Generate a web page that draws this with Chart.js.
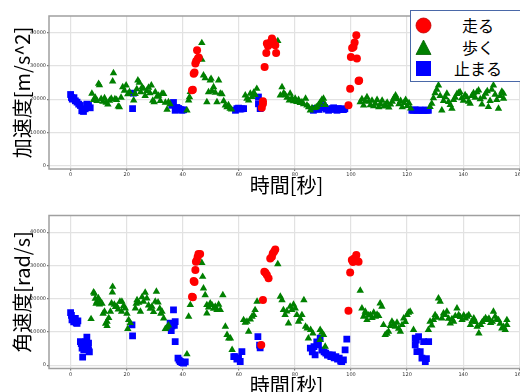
<!DOCTYPE html>
<html><head><meta charset="utf-8">
<script src="https://cdn.jsdelivr.net/npm/chart.js@4"></script>
<style>
html,body{margin:0;padding:0;width:520px;height:392px;overflow:hidden;background:#fff;}
.wrap{position:absolute;left:0;width:540px;height:200px;}
#legend{position:absolute;left:410px;top:10px;width:130px;height:70px;border:1.5px solid #4a68a8;background:#fff;font-family:"Noto Sans CJK JP",sans-serif;font-size:16px;color:#000;z-index:5;}
.row{position:absolute;left:0;width:130px;height:20px;}
.row svg{position:absolute;left:4px;top:2px;}
.row span{position:absolute;left:40px;width:54px;text-align:center;line-height:20px;}
</style></head>
<body>
<div class="wrap" style="top:0"><canvas id="accel" width="540" height="200"></canvas></div>
<div class="wrap" style="top:200px"><canvas id="gyro" width="540" height="200"></canvas></div>
<div id="legend">
  <div class="row" style="top:4px"><svg width="17" height="17"><circle cx="8.5" cy="8.5" r="7.5" fill="#ff0000" stroke="#c00000" stroke-width="0.8"/></svg><span>走る</span></div>
  <div class="row" style="top:25.5px"><svg width="17" height="17"><polygon points="8.5,1 16,15.5 1,15.5" fill="#008000" stroke="#006000" stroke-width="0.8"/></svg><span>歩く</span></div>
  <div class="row" style="top:47px"><svg width="17" height="17"><rect x="1" y="1" width="15" height="15" fill="#0000ff"/></svg><span>止まる</span></div>
</div>
<script>
// ---- data: [time (s), value] ----
const labels = ["走る", "歩く", "止まる"];
const xTitle = "時間[秒]";
const accelTitle = "加速度[m/s^2]";
const gyroTitle = "角速度[rad/s]";
const timeTicks = [0, 20, 40, 60, 80, 100, 120, 140, 160];
const valueTicks = [0, 10000, 20000, 30000, 40000];

const accelRun = [[43.3,22650],[43.6,22800],[43.9,27650],[44.2,28000],[44.5,30700],[44.8,31500],[45.1,34700],[45.4,32200],[45.7,32500],
  [68.2,17400],[68.6,19350],[68.6,18600],[69.2,29650],[69.8,33850],[70.0,36700],[70.4,36000],[70.9,36500],[71.3,37100],[71.8,38200],[72.2,37500],[73.0,36200],[73.3,33850],
  [99.1,18150],[99.7,23150],[99.96,32650],[100.4,35400],[100.9,35650],[101.3,37000],[101.9,39200],[102.1,32200],[102.7,25450],[102.9,25600]];
const accelWalk = [[7.6,21650],[8.2,19800],[8.8,20500],[9.4,19500],[10.0,24650],[10.3,24200],[10.9,20100],[11.5,19300],[12.1,20300],[12.7,19000],[13.3,18400],[13.9,19600],[14.5,20200],[15.0,25350],[15.3,27850],[15.8,20000],[16.4,19800],[17.0,17800],[17.4,17600],[18.0,20500],[18.6,23650],[19.2,22600],[19.8,24150],[20.4,21500],[21.0,22200],[22.5,19650],[23.0,21600],[23.6,23000],[24.0,25650],[24.5,25000],[25.0,22100],[25.5,23600],[26.0,23150],[26.6,21000],[27.2,22500],[27.8,23500],[28.3,21800],[28.8,24150],[29.3,19600],[29.8,19100],[30.2,22150],[30.8,20800],[31.4,21100],[32.0,19500],[32.6,21650],[33.2,21600],[33.8,19000],[34.4,16850],[34.9,19100],[35.5,18500],
  [41.5,16650],[42.1,19650],[42.4,20600],[42.7,22200],
  [46.8,36900],[46.8,31900],[47.4,27150],[48.0,26300],[48.6,19100],[49.2,22150],[49.8,25650],[50.1,26150],[50.4,22500],[51.0,23650],[51.6,22000],[52.2,19100],[52.8,25650],[53.4,21650],[54.0,21500],[54.6,19400],[55.2,18150],[55.8,17600],[56.3,18200],[56.9,17150],[57.4,16900],
  [62.3,21150],[62.9,20200],[63.5,19650],[64.1,21650],[64.7,20700],[65.3,22000],[65.8,21300],[66.4,23150],
  [73.9,37500],
  [74.8,21150],[75.4,23650],[76.0,21800],[76.6,21200],[77.2,20500],[78.0,19650],[78.3,21650],[78.9,20300],[79.5,19400],[80.1,20150],[80.7,19200],[81.3,19800],[81.9,18900],[82.5,19100],[83.1,18500],[83.8,20150],[84.3,18150],[84.9,17600],[85.5,16650],[86.1,17300],[87.2,17400],[87.8,17650],[88.4,18300],[89.0,19000],[89.6,19800],[90.2,20150],[90.8,18300],
  [103.3,19100],[103.9,20000],[104.5,18100],[105.1,19400],[105.7,20650],[106.3,19300],[106.9,18200],[107.5,19600],[108.1,17900],[108.7,18700],[109.3,19800],[109.9,17600],[110.5,18600],[111.1,19600],[111.7,17800],[112.3,18300],[112.9,19000],[113.5,17500],[114.1,18400],[114.7,19300],[115.3,20300],[115.9,21150],[116.5,20000],[117.1,18500],[117.7,19500],[118.3,17600],[118.9,18900],[119.5,19800],[120.1,18000],[120.7,18800],[121.3,17200],
  [128.2,17700],[128.8,18650],[129.4,20300],[130.0,21800],[130.6,22900],[131.2,24150],[131.8,21000],[132.4,16650],[133.0,19500],[133.6,20600],[134.2,21650],[134.8,19200],[135.4,18300],[136.0,17150],[136.6,19800],[137.2,20500],[137.8,21600],[138.4,21900],[138.9,22150],[139.5,20300],[140.1,19600],[140.7,21200],[141.3,20650],[141.9,19300],[142.5,18650],[143.1,21000],[143.7,21800],[144.3,20500],[144.9,22100],[145.5,22650],[146.1,20000],[146.7,18400],[147.3,20600],[148.0,21650],[148.6,22400],[149.0,17650],[149.6,19500],[150.2,22900],[150.8,24150],[151.4,21400],[152.0,19800],[152.6,17150],[153.2,21000],[153.8,22300],[154.4,21650],[154.4,20150]];
const accelStop = [[0,21400],[0.3,20500],[0.6,20000],[1.2,20450],[1.7,19500],[2.3,19100],[2.9,18500],[3.5,18100],[4.0,16500],[4.6,16300],[5.2,17100],[5.8,18500],[6.4,18100],[7.0,17400],
  [22.1,17150],[22.4,21800],
  [36.1,18150],[36.7,19000],[37.3,16650],[37.9,17500],[38.5,17200],[39.1,16900],[39.7,16650],[40.3,16800],
  [58.8,16650],[59.3,17150],[59.9,17300],[60.5,17000],[61.1,17100],[61.7,17150],
  [67.0,20650],[67.0,18600],[67.6,17150],
  [86.6,16650],[87.2,17200],[88.0,17150],[88.6,16900],[89.3,17400],[90.0,18100],[90.6,17500],[91.2,17000],[92.0,16650],[92.6,17000],[93.2,17150],[93.8,17400],[94.4,16900],[95.0,16650],[95.5,17200],[96.2,16850],[96.8,17000],[97.3,16850],[97.8,17100],
  [121.7,16650],[122.3,16650],[122.9,16800],[123.5,16650],[124.1,16650],[124.7,16700],[125.3,16650],[125.9,16650],[126.5,16700],[127.1,16650],[127.6,16650]];

const gyroRun = [[43.3,20600],[43.6,20400],[43.9,25300],[44.2,25000],[44.5,28600],[44.7,31100],[45.0,31500],[45.3,32500],[45.6,33400],[46.2,33400],
  [68.0,6100],[68.6,19600],[69.1,28100],[69.5,27800],[70.0,27100],[70.6,26100],[71.2,32100],[71.8,32600],[72.1,33600],[72.6,34200],[73.0,34800],
  [99.1,16400],[99.7,27900],[100.3,31600],[100.7,31000],[101.1,32100],[101.5,31500],[101.9,33100],[102.3,31300],[102.7,31100]];
const gyroWalk = [[7.3,13900],[8.2,21900],[8.5,21500],[8.8,20000],[9.1,18500],[9.4,19100],[9.9,20200],[10.3,18300],[10.6,19100],[11.2,18500],[11.6,15500],[12.1,16100],[12.5,12500],[13.0,13100],[13.0,11800],[13.6,14200],[14.2,16100],[14.6,18600],[14.9,21900],[15.0,23600],[15.6,18200],[16.0,17500],[16.5,17600],[17.0,16800],[17.6,19100],[18.2,16100],[18.3,19100],[18.9,17800],[19.5,17100],[20.1,15500],[20.4,10900],[20.7,13600],[21.3,12700],[23.1,17100],[23.4,18500],[23.7,19600],[24.3,18800],[24.9,16100],[25.5,20500],[26.0,19100],[26.6,21800],[27.2,20100],[27.8,18000],[28.4,17000],[29.0,17600],[29.6,16000],[30.2,19100],[30.6,22100],[31.2,18900],[31.8,17000],[32.2,15500],[32.6,16100],[33.2,14100],[33.8,10900],[34.4,11400],[34.9,12000],
  [41.5,3300],[42.1,14600],[42.7,18100],
  [46.8,30800],[47.1,26600],[47.4,23100],[48.0,21100],[48.6,18100],[48.6,15600],[49.2,17400],[49.8,18600],[50.4,18100],[51.0,17000],[51.6,17600],[52.2,16600],[52.8,18200],[53.4,16600],[54.3,21100],[55.2,11600],[55.8,9100],[56.4,8100],[57.0,8100],[57.6,4600],
  [61.7,13600],[62.3,12800],[62.9,13100],[63.5,10100],[64.1,13800],[64.7,14600],[65.3,15100],[65.8,16600],[66.5,19100],
  [73.9,30400],
  [74.8,20600],[75.4,19600],[75.9,16600],[76.5,15100],[77.1,16200],[77.7,12600],[78.3,17600],[78.9,16600],[79.5,18200],[80.1,17100],[80.7,15100],[81.3,13100],[81.9,14000],[82.5,15100],[83.2,19600],[83.8,11600],[84.4,11100],[84.8,8100],[85.6,10600],[86.4,9600],[89.0,10600],[89.0,7600],[89.6,9800],[90.2,9100],[90.8,5600],
  [103.3,22400],[103.9,17100],[104.5,14600],[105.1,15600],[105.1,16100],[105.7,13600],[106.3,15000],[106.9,15100],[107.5,14200],[108.1,15800],[108.7,14600],[109.3,15200],[109.9,14800],[110.4,18600],[111.0,17600],[111.6,12100],[112.2,9100],[112.8,9500],[113.4,10100],[114.0,11800],[114.6,13100],[115.2,12400],[115.8,11600],[116.4,12800],[117.0,11000],[117.6,10100],[118.2,12100],[118.8,14100],[119.4,13000],[120.0,15100],[120.5,15800],[121.1,16100],[122.3,10600],
  [127.6,10600],[128.2,13100],[128.8,12000],[129.4,13600],[130.0,15100],[130.6,14300],[131.2,20100],[131.8,19100],[132.4,14100],[133.0,15600],[133.6,15100],[134.2,16100],[134.8,14000],[135.4,12600],[136.0,13900],[136.6,13100],[137.2,14800],[137.8,17100],[138.4,15100],[139.0,14500],[139.6,13600],[140.2,15000],[140.8,14100],[141.4,14600],[142.0,15100],[142.6,12100],[143.2,13300],[143.8,14100],[144.4,13000],[145.0,11600],[145.6,9600],[146.2,12100],[146.8,13000],[147.4,13600],[148.0,14200],[148.6,13600],[149.2,14000],[149.8,12700],[150.4,13100],[150.8,16100],[151.4,14600],[152.0,13800],[152.6,13600],[153.2,12500],[153.8,11100],[154.4,11500],[155.0,10600],[155.6,13600],[155.6,12100]];
const gyroStop = [[0,15800],[0.3,15000],[0.5,13600],[1.1,13000],[1.7,14100],[2.0,12700],[2.3,12600],[2.6,13300],[3.5,7100],[3.8,6500],[4.1,5100],[4.3,2400],[4.7,4600],[5.0,5500],[5.3,7000],[5.6,6100],[5.8,8400],[6.1,5000],[6.4,6600],[6.4,4600],[6.7,4000],
  [21.9,12100],[22.1,8800],
  [35.5,12600],[35.9,10400],[36.2,11800],[36.7,16600],[37.0,12000],[37.3,13100],[37.3,7100],[38.3,2100],[38.7,1500],[39.1,1100],[39.7,800],[40.3,600],[40.9,1000],
  [58.2,2600],[58.7,2600],[59.3,1800],[59.9,2100],[60.5,1100],[61.1,4100],
  [66.8,8600],[67.4,6000],[67.6,5200],
  [85.5,5100],[86.2,4000],[86.8,5600],[87.2,3100],[87.8,7000],[88.4,6100],[89.0,8100],[89.6,4500],[90.4,4000],[91.0,3600],[91.6,3000],[92.2,3100],[92.8,2600],[93.4,3100],[94.0,2200],[94.6,2600],[95.2,1800],[95.8,2100],[96.3,1200],[96.7,1100],[97.3,1600],[97.9,4600],[98.5,7800],
  [122.9,8100],[122.9,6100],[123.3,7500],[123.5,4100],[124.1,8600],[124.7,4100],[125.3,2100],[125.9,7100],[126.5,1100],[126.9,2000],[127.7,7100]];

const framePlugin = {
  id: 'frame',
  beforeDatasetsDraw(chart) {
    const a = chart.chartArea, ctx = chart.ctx;
    ctx.save();
    ctx.strokeStyle = '#a0a0a0';
    ctx.lineWidth = 1.5;
    ctx.strokeRect(a.left, a.top, a.right - a.left, a.bottom - a.top);
    ctx.restore();
  }
};

function makeChart(id, yTitle, run, walk, stop, padTop, xHeight) {
  const tickFont = {family: 'DejaVu Sans', size: 5};
  const plain = v => String(v);
  return new Chart(document.getElementById(id), {
    type: 'scatter',
    data: {
      datasets: [
        {label: labels[0], data: run, pointStyle: 'circle', pointRadius: 4, backgroundColor: '#ff0000', borderColor: '#ff0000', borderWidth: 0},
        {label: labels[1], data: walk, pointStyle: 'triangle', pointRadius: 4.3, backgroundColor: '#008000', borderColor: '#008000', borderWidth: 0},
        {label: labels[2], data: stop, pointStyle: 'rect', pointRadius: 4.8, backgroundColor: '#0000ff', borderColor: '#0000ff', borderWidth: 0}
      ]
    },
    options: {
      responsive: false,
      animation: false,
      layout: {padding: {top: padTop, right: 16, left: 0, bottom: 0}},
      plugins: {legend: {display: false}, tooltip: {enabled: false}},
      scales: {
        x: {
          type: 'linear', min: -7.7, max: 161.7,
          afterBuildTicks: s => { s.ticks = timeTicks.map(v => ({value: v})); },
          afterFit: s => { s.height = xHeight; },
          grid: {color: '#e2e2e2', lineWidth: 1.2, tickLength: 2, tickColor: '#777'},
          border: {display: false},
          ticks: {font: tickFont, color: '#333', padding: 1, maxRotation: 0, callback: plain},
          title: {display: true, text: xTitle, font: {family: '"Noto Sans CJK JP"', size: 20}, color: '#000', padding: {top: 0, bottom: 3}}
        },
        y: {
          min: -1000, max: 45000,
          afterBuildTicks: s => { s.ticks = valueTicks.map(v => ({value: v})); },
          afterFit: s => { s.width = 49; },
          grid: {color: '#e2e2e2', lineWidth: 1.2, tickLength: 2, tickColor: '#777'},
          border: {display: false},
          ticks: {font: tickFont, color: '#333', padding: 1, callback: plain},
          title: {display: true, text: yTitle, font: {family: '"Noto Sans CJK JP"', size: 20}, color: '#000', padding: {top: 10, bottom: 0}}
        }
      }
    },
    plugins: [framePlugin]
  });
}

makeChart('accel', accelTitle, accelRun, accelWalk, accelStop, 16, 31);
makeChart('gyro', gyroTitle, gyroRun, gyroWalk, gyroStop, 15.5, 31.5);
</script>
</body></html>
